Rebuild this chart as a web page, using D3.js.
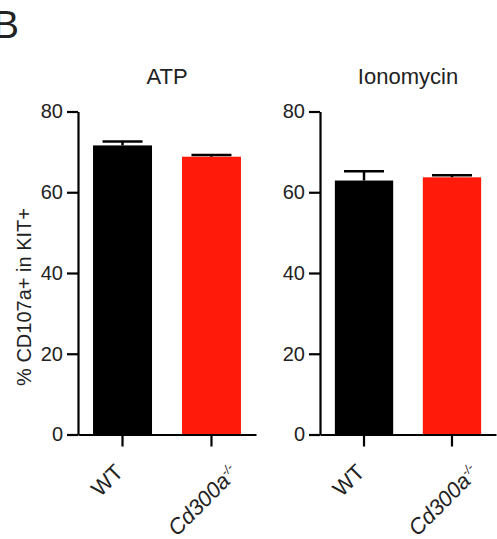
<!DOCTYPE html>
<html>
<head>
<meta charset="utf-8">
<script src="https://d3js.org/d3.v7.min.js"></script>
<style>
body { margin: 0; background: #fff; font-family: 'Liberation Sans', Arial, sans-serif; }
svg text { fill: #222; }
</style>
</head>
<body>
<svg width="497" height="539"></svg>
<script>
// groups and values
var groups = ["WT", "Cd300a"];
var panelTitles = ["ATP", "Ionomycin"];
var atpMean = [71.6, 68.8];
var atpSem = [1.0, 0.4];
var ionoMean = [62.9, 63.7];
var ionoSem = [2.3, 0.5];
var yTicks = [0, 20, 40, 60, 80];
var colors = ["#000000", "#ff1a0a"];

var svg = d3.select("svg");

// panel letter
svg.append("text")
  .attr("x", -7).attr("y", 38)
  .style("font-size", "39px")
  .text("B");

// y label
svg.append("text")
  .attr("transform", "translate(31,297) rotate(-90)")
  .attr("text-anchor", "middle")
  .style("font-size", "20px")
  .text("% CD107a+ in KIT+");

var y = d3.scaleLinear().domain([0, 80]).range([434.5, 111.5]);

var panels = [
  { left: 78, right: 256, title: panelTitles[0], mean: atpMean, sem: atpSem },
  { left: 320, right: 496, title: panelTitles[1], mean: ionoMean, sem: ionoSem }
];

panels.forEach(function(p) {
  var x = d3.scaleBand().domain(groups)
    .range([p.left, p.right])
    .paddingInner(0.337).paddingOuter(0.169);

  var g = svg.append("g");

  g.append("text")
    .attr("x", (x("WT") + x("Cd300a") + x.bandwidth()) / 2)
    .attr("y", 84)
    .attr("text-anchor", "middle")
    .style("font-size", "22px")
    .text(p.title);

  // bars
  g.selectAll("rect.bar").data(groups).enter().append("rect")
    .attr("class", "bar")
    .attr("x", function(d) { return x(d); })
    .attr("width", x.bandwidth())
    .attr("y", function(d, i) { return y(p.mean[i]); })
    .attr("height", function(d, i) { return y(0) - y(p.mean[i]); })
    .attr("fill", function(d, i) { return colors[i]; });

  // error bars (upper only)
  var cap = 20;
  groups.forEach(function(d, i) {
    var cx = x(d) + x.bandwidth() / 2;
    var top = y(p.mean[i] + p.sem[i]);
    g.append("line")
      .attr("x1", cx).attr("x2", cx)
      .attr("y1", y(p.mean[i])).attr("y2", top)
      .attr("stroke", "#000").attr("stroke-width", 2.5);
    g.append("line")
      .attr("x1", cx - cap).attr("x2", cx + cap)
      .attr("y1", top).attr("y2", top)
      .attr("stroke", "#000").attr("stroke-width", 2.5);
  });

  // y axis
  var ya = g.append("g")
    .attr("transform", "translate(" + p.left + ",0)")
    .call(d3.axisLeft(y).tickValues(yTicks).tickSize(11).tickSizeOuter(0).tickPadding(4));
  ya.selectAll("path, line").attr("stroke", "#000").attr("stroke-width", 2.2);
  ya.selectAll("text").style("font-size", "20px").attr("fill", "#222")
    .attr("font-family", "'Liberation Sans', Arial, sans-serif");

  // x axis
  var xa = g.append("g")
    .attr("transform", "translate(0," + y(0) + ")")
    .call(d3.axisBottom(x).tickSize(12).tickSizeOuter(0).tickFormat(""));
  xa.selectAll("path, line").attr("stroke", "#000").attr("stroke-width", 2.2);

  // rotated category labels
  groups.forEach(function(d, i) {
    var cx = x(d) + x.bandwidth() / 2;
    var t = g.append("text")
      .attr("text-anchor", "end")
      .style("font-size", "22px");
    if (d === "WT") {
      t.attr("transform", "translate(" + (cx + 2) + "," + (y(0) + 39) + ") rotate(-45)")
        .text("WT");
    } else {
      t.attr("transform", "translate(" + (cx + 20) + "," + (y(0) + 48) + ") rotate(-45)")
        .attr("text-anchor", "start")
        .attr("dx", "-3.5em");
      t.append("tspan").style("font-style", "italic").text("Cd300a");
      t.append("tspan").attr("dy", "-0.7em").style("font-size", "12px").style("font-style", "italic").text("-/-");
    }
  });
});
</script>
</body>
</html>
